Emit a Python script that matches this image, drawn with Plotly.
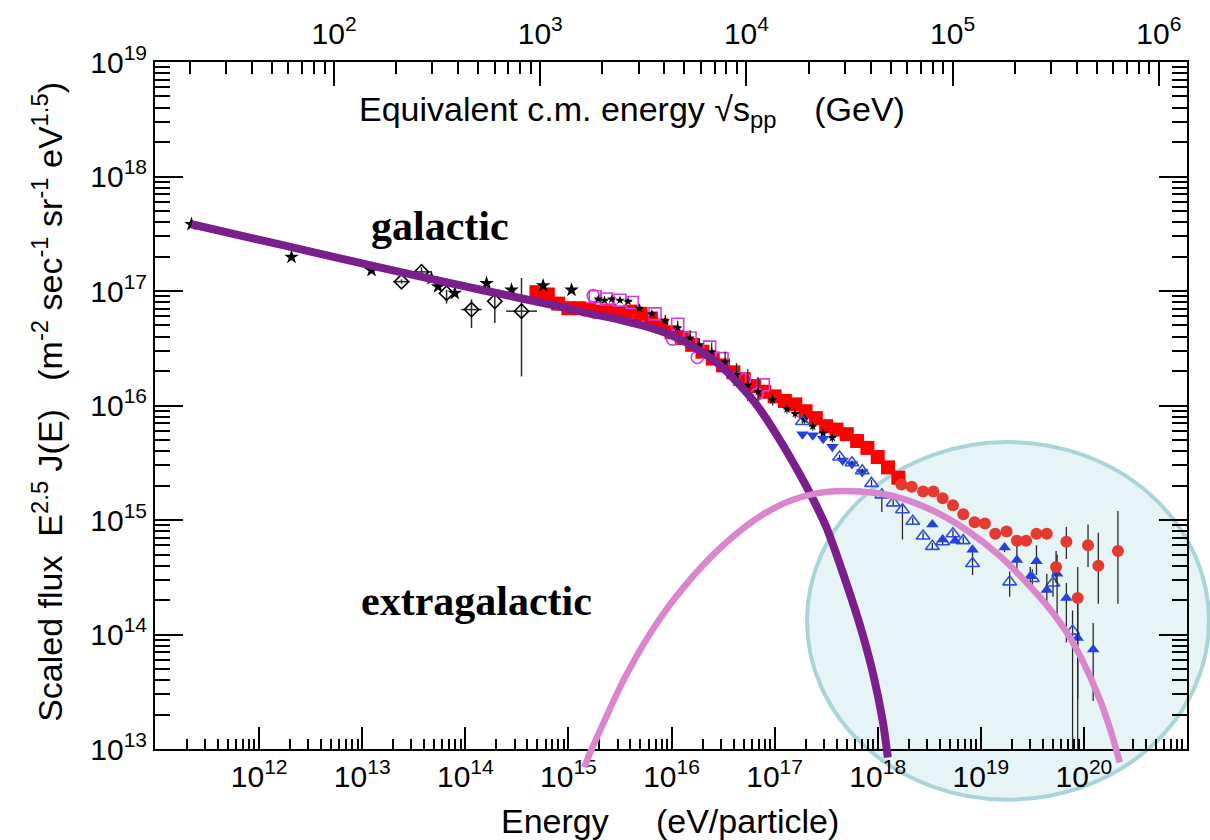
import numpy as np
import plotly.graph_objects as go

# ---------------- data (log10 energy [eV], log10 scaled flux) ----------------
star_logE = [11.344, 12.314, 13.090, 13.672, 13.736, 13.898, 14.206, 14.448, 14.755, 15.030]
star_logF = [17.583, 17.296, 17.181, 17.110, 17.039, 16.981, 17.067, 17.009, 17.047, 17.009]

dia_logE = [13.381, 13.575, 13.818, 14.060, 14.286, 14.545]
dia_logF = [17.082, 17.167, 16.981, 16.838, 16.910, 16.824]
dia_up = [0.02, 0.04, 0.03, 0.09, 0.09, 0.29]
dia_dn = [0.02, 0.04, 0.09, 0.16, 0.19, 0.57]
dia_xerr = [0.08, 0.10, 0.0, 0.10, 0.0, 0.15]

sq_logE = [14.69, 14.80, 14.90, 15.00, 15.10, 15.20, 15.30, 15.40, 15.50, 15.60, 15.70, 15.80,
           15.90, 16.00, 16.10, 16.20, 16.30, 16.40, 16.50, 16.60, 16.70, 16.80, 16.90, 17.00,
           17.10, 17.20, 17.30, 17.40, 17.50, 17.60, 17.70, 17.80, 17.90, 18.00, 18.10, 18.20]
sq_logF = [16.99, 16.97, 16.89, 16.85, 16.85, 16.84, 16.82, 16.83, 16.81, 16.82, 16.80, 16.76,
           16.70, 16.64, 16.59, 16.53, 16.47, 16.41, 16.35, 16.29, 16.23, 16.17, 16.12, 16.08,
           16.04, 16.01, 15.95, 15.89, 15.82, 15.79, 15.75, 15.69, 15.63, 15.55, 15.46, 15.37]

mg_sq_logE = [15.26, 15.37, 15.50, 15.62, 15.84, 16.06, 16.18, 16.37, 16.49, 16.66, 16.89]
mg_sq_logF = [16.95, 16.93, 16.92, 16.90, 16.80, 16.71, 16.59, 16.51, 16.41, 16.23, 16.18]
mg_ci_logE = [15.24, 16.01, 16.25, 16.71, 16.83]
mg_ci_logF = [16.96, 16.58, 16.42, 16.23, 16.10]

bk_logE = [15.29, 15.35, 15.42, 15.50, 15.58, 15.69, 15.81, 15.94, 16.06, 16.18, 16.27, 16.39,
           16.52, 16.63, 16.74, 16.84, 16.98, 17.12, 17.20, 17.29, 17.37, 17.47, 17.56]
bk_logF = [16.93, 16.92, 16.93, 16.92, 16.91, 16.85, 16.80, 16.74, 16.68, 16.59, 16.53, 16.47,
           16.38, 16.27, 16.18, 16.12, 16.05, 15.97, 15.93, 15.88, 15.82, 15.76, 15.72]
bk_err = [0.02, 0.02, 0.02, 0.02, 0.02, 0.03, 0.03, 0.05, 0.06, 0.07, 0.06, 0.08,
          0.09, 0.10, 0.14, 0.13, 0.05, 0.04, 0.04, 0.04, 0.04, 0.04, 0.04]

bd_logE = [17.27, 17.37, 17.47, 17.56, 17.66, 17.75, 17.85]
bd_logF = [15.75, 15.74, 15.71, 15.64, 15.52, 15.49, 15.42]

bo_logE = [17.27, 17.63, 17.75, 17.85, 17.94, 18.04, 18.15, 18.24, 18.34, 18.44, 18.53, 18.63,
           18.73, 18.83, 18.92, 19.28, 19.50, 19.70, 19.89]
bo_logF = [15.86, 15.55, 15.50, 15.43, 15.32, 15.22, 15.15, 15.09, 14.99, 14.86, 14.77, 14.81,
           14.88, 14.82, 14.62, 14.46, 14.49, 14.45, 14.03]
bo_up = [0.02, 0.02, 0.02, 0.02, 0.03, 0.03, 0.03, 0.04, 0.03, 0.03, 0.03, 0.03,
         0.03, 0.03, 0.09, 0.09, 0.08, 0.10, 0.18]
bo_dn = [0.02, 0.02, 0.02, 0.02, 0.03, 0.15, 0.03, 0.26, 0.03, 0.03, 0.03, 0.03,
         0.03, 0.03, 0.10, 0.13, 0.10, 0.12, 1.05]

bf_logE = [18.53, 18.63, 18.75, 18.92, 19.23, 19.35, 19.48, 19.54, 19.64, 19.74, 19.83, 19.94, 20.09]
bf_logF = [14.96, 14.83, 14.82, 14.74, 14.76, 14.65, 14.51, 14.64, 14.39, 14.53, 14.32, 13.97, 13.87]
bf_up = [0.02, 0.02, 0.02, 0.03, 0.04, 0.14, 0.08, 0.14, 0.14, 0.17, 0.13, 0.30, 0.23]
bf_dn = [0.02, 0.02, 0.02, 0.03, 0.04, 0.12, 0.10, 0.12, 0.16, 0.35, 0.39, 0.98, 0.45]

rc_logE = [18.23, 18.33, 18.44, 18.54, 18.63, 18.73, 18.83, 18.94, 19.04, 19.14, 19.25,
           19.35, 19.44, 19.54, 19.64, 19.73, 19.83, 19.94, 20.04, 20.14, 20.33]
rc_logF = [15.31, 15.29, 15.25, 15.25, 15.19, 15.13, 15.05, 14.98, 14.97, 14.88, 14.90,
           14.82, 14.82, 14.88, 14.88, 14.59, 14.81, 14.32, 14.78, 14.60, 14.73]
rc_up = [0.02, 0.02, 0.02, 0.02, 0.02, 0.02, 0.02, 0.02, 0.02, 0.02, 0.02,
         0.03, 0.03, 0.04, 0.04, 0.14, 0.13, 0.27, 0.18, 0.29, 0.35]
rc_dn = [0.02, 0.02, 0.02, 0.02, 0.02, 0.02, 0.02, 0.02, 0.02, 0.02, 0.02,
         0.03, 0.03, 0.04, 0.04, 0.14, 0.15, 0.88, 0.19, 0.33, 0.46]

# model components
gal_logE = [11.344, 12.230, 13.200, 14.170, 14.849, 15.178, 15.499, 15.760, 15.983, 16.207,
            16.468, 16.808, 17.050, 17.244, 17.409, 17.506, 17.661, 17.826, 17.953, 18.049, 18.098]
gal_logF = [17.583, 17.400, 17.200, 17.007, 16.878, 16.809, 16.749, 16.689, 16.620, 16.517,
            16.354, 16.027, 15.701, 15.400, 15.117, 14.928, 14.541, 14.086, 13.665, 13.244, 12.926]

eg_logE = [15.154, 15.188, 15.305, 15.566, 15.886, 16.207, 16.536, 16.856, 17.176, 17.506, 17.826,
           18.146, 18.534, 18.864, 19.184, 19.504, 19.669, 19.834, 19.989, 20.154, 20.251, 20.348]
eg_logF = [12.840, 12.918, 13.158, 13.656, 14.137, 14.507, 14.808, 15.031, 15.177, 15.246, 15.250,
           15.211, 15.083, 14.911, 14.687, 14.395, 14.223, 14.017, 13.768, 13.433, 13.184, 12.883]

# axis tick labels
x_major = list(range(12, 22))
y_major = list(range(13, 20))
top_major = list(range(2, 7))


def p10(a):
    return 10 ** np.asarray(a, dtype=float)


def yerr(logF, up, dn):
    f = p10(logF)
    return p10(np.asarray(logF) + np.asarray(up)) - f, f - p10(np.asarray(logF) - np.asarray(dn))


def xerr(logE, d):
    e = p10(logE)
    return p10(np.asarray(logE) + np.asarray(d)) - e, e - p10(np.asarray(logE) - np.asarray(d))


# ---------------- geometry ----------------
W, H = 1210, 840
ML, MR, MT, MB = 155, 23, 49, 60
plot_w = W - ML - MR
plot_h = H - MT - MB
frame_bottom_px = 748.5
y_dom0 = (H - MB - frame_bottom_px) / plot_h
XR = [10.99, 21.0]
YR = [13.0, 19.0]
dec_px = plot_h * (1 - y_dom0) / (YR[1] - YR[0])
YR3 = [YR[1] - plot_h / dec_px, YR[1]]
# sqrt(s_pp) = sqrt(2 m_p E), m_p = 0.938 GeV, E in eV
TOPR = [0.5 * (XR[0] + np.log10(1.876) - 9), 0.5 * (XR[1] + np.log10(1.876) - 9)]


def px(x):
    return (x - ML) / plot_w


def py(y):
    return (H - MB - y) / plot_h


SANS = "Liberation Sans, Arial, Helvetica, sans-serif"
SERIF = "Liberation Serif, Times New Roman, serif"
ERRC = "#2a2a2a"

fig = go.Figure()

# red squares
fig.add_trace(go.Scatter(x=p10(sq_logE), y=p10(sq_logF), mode="markers",
                         marker=dict(symbol="square", size=14, color="#ff0000", line=dict(width=0))))
# magenta open squares / circles
fig.add_trace(go.Scatter(x=p10(mg_sq_logE), y=p10(mg_sq_logF), mode="markers",
                         marker=dict(symbol="square-open", size=12, color="#d23be0", line=dict(width=1.6))))
fig.add_trace(go.Scatter(x=p10(mg_ci_logE), y=p10(mg_ci_logF), mode="markers",
                         marker=dict(symbol="circle-open", size=12, color="#d23be0", line=dict(width=1.6))))
# small black points with error bars
bk_p, bk_m = yerr(bk_logF, bk_err, bk_err)
bkx_p, bkx_m = xerr(bk_logE, [0.035] * len(bk_logE))
fig.add_trace(go.Scatter(x=p10(bk_logE), y=p10(bk_logF), mode="markers",
                         marker=dict(symbol="star", size=7, color="black"),
                         error_y=dict(type="data", array=bk_p, arrayminus=bk_m, color=ERRC, thickness=1.3, width=0),
                         error_x=dict(type="data", array=bkx_p, arrayminus=bkx_m, color=ERRC, thickness=1.3, width=0)))
# open diamonds
d_p, d_m = yerr(dia_logF, dia_up, dia_dn)
dx_p, dx_m = xerr(dia_logE, dia_xerr)
fig.add_trace(go.Scatter(x=p10(dia_logE), y=p10(dia_logF), mode="markers",
                         marker=dict(symbol="diamond-open", size=11, color="black", line=dict(width=1.6)),
                         error_y=dict(type="data", array=d_p, arrayminus=d_m, color=ERRC, thickness=1.5, width=0),
                         error_x=dict(type="data", array=dx_p, arrayminus=dx_m, color=ERRC, thickness=1.5, width=0)))
# black stars
fig.add_trace(go.Scatter(x=p10(star_logE), y=p10(star_logF), mode="markers",
                         marker=dict(symbol="star", size=11, color="black", line=dict(width=0))))
# blue filled down-triangles
fig.add_trace(go.Scatter(x=p10(bd_logE), y=p10(bd_logF), mode="markers",
                         marker=dict(symbol="triangle-down", size=11, color="#2342e0", line=dict(width=0))))
# blue open triangles
bo_p, bo_m = yerr(bo_logF, bo_up, bo_dn)
fig.add_trace(go.Scatter(x=p10(bo_logE), y=p10(bo_logF), mode="markers",
                         marker=dict(symbol="triangle-up-open", size=12, color="#2f4fe0", line=dict(width=1.6)),
                         error_y=dict(type="data", array=bo_p, arrayminus=bo_m, color=ERRC, thickness=1.3, width=0)))
# blue filled triangles
bf_p, bf_m = yerr(bf_logF, bf_up, bf_dn)
fig.add_trace(go.Scatter(x=p10(bf_logE), y=p10(bf_logF), mode="markers",
                         marker=dict(symbol="triangle-up", size=11, color="#2342e0", line=dict(width=0)),
                         error_y=dict(type="data", array=bf_p, arrayminus=bf_m, color=ERRC, thickness=1.3, width=0)))
# red circles
rc_p, rc_m = yerr(rc_logF, rc_up, rc_dn)
fig.add_trace(go.Scatter(x=p10(rc_logE), y=p10(rc_logF), mode="markers",
                         marker=dict(symbol="circle", size=12, color="#e6392f", line=dict(width=0)),
                         error_y=dict(type="data", array=rc_p, arrayminus=rc_m, color=ERRC, thickness=1.3, width=0)))

# anchor trace for the top (c.m. energy) axis
fig.add_trace(go.Scatter(x=[10 ** (TOPR[0] + 0.1), 10 ** (TOPR[1] - 0.1)], y=[1e15, 1e15],
                         xaxis="x2", yaxis="y", mode="markers", marker=dict(opacity=0),
                         hoverinfo="skip"))

# galactic / extragalactic components (may run slightly past the frame)
fig.add_trace(go.Scatter(x=p10(gal_logE), y=p10(gal_logF), xaxis="x3", yaxis="y3", mode="lines",
                         line=dict(color="#7b1f8c", width=8, shape="spline", smoothing=0.8)))
fig.add_trace(go.Scatter(x=p10(eg_logE), y=p10(eg_logF), xaxis="x3", yaxis="y3", mode="lines",
                         line=dict(color="#d986cd", width=6.5, shape="spline", smoothing=1.0)))


def minor_vals(lo, hi):
    vals = []
    for n in range(int(np.floor(lo)), int(np.ceil(hi)) + 1):
        for k in range(2, 10):
            v = np.log10(k) + n
            if lo < v < hi:
                vals.append(k * 10.0 ** n)
    return vals


tick_common = dict(type="log", showgrid=False, zeroline=False, showline=True, linecolor="black",
                   linewidth=2, ticks="inside", tickcolor="black", tickwidth=2,
                   tickfont=dict(family=SANS, size=30, color="black"))

fig.update_layout(
    width=W, height=H, autosize=False,
    margin=dict(l=ML, r=MR, t=MT, b=MB),
    paper_bgcolor="white", plot_bgcolor="rgba(0,0,0,0)",
    showlegend=False,
    font=dict(family=SANS, color="black"),
    xaxis=dict(**tick_common, range=XR, domain=[0, 1], anchor="y", mirror=False, ticklen=22,
               tickmode="array", tickvals=[10.0 ** k for k in x_major],
               ticktext=[f"10<sup>{k}</sup>" for k in x_major],
               minor=dict(ticks="inside", ticklen=10, tickwidth=1.5, tickcolor="black",
                          tickvals=minor_vals(*XR), showgrid=False)),
    xaxis2=dict(**tick_common, range=TOPR, overlaying="x", side="top", anchor="y", ticklen=24,
                tickmode="array", tickvals=[10.0 ** k for k in top_major],
                ticktext=[f"10<sup>{k}</sup>" for k in top_major],
                ticklabelstandoff=4,
                minor=dict(ticks="inside", ticklen=12, tickwidth=1.5, tickcolor="black",
                           tickvals=minor_vals(*TOPR), showgrid=False)),
    yaxis=dict(**tick_common, range=YR, domain=[y_dom0, 1], anchor="x", mirror="ticks", ticklen=28,
               tickmode="array", tickvals=[10.0 ** k for k in y_major],
               ticktext=[f"10<sup>{k}</sup>" for k in y_major],
               minor=dict(ticks="inside", ticklen=15, tickwidth=1.5, tickcolor="black",
                          tickvals=minor_vals(*YR), showgrid=False)),
    xaxis3=dict(type="log", range=XR, domain=[0, 1], anchor="y3", visible=False),
    yaxis3=dict(type="log", range=YR3, domain=[0, 1], anchor="x3", visible=False),
)

# highlighted ultra-high-energy region
ell = dict(type="circle", xref="paper", yref="paper",
           x0=px(807), x1=px(1209), y0=py(800), y1=py(436), layer="below")
fig.add_shape(**ell, fillcolor="#e7f4f5", line=dict(width=0))
fig.add_shape(**ell, fillcolor="rgba(0,0,0,0)", line=dict(color="#a9d5da", width=4))

NB = "\u00a0"
annots = [
    dict(text="<b>galactic</b>", x=px(440), y=py(216), font=dict(family=SERIF, size=42)),
    dict(text="<b>extragalactic</b>", x=px(476), y=py(598), font=dict(family=SERIF, size=42)),
    dict(text=f"Equivalent c.m. energy √s<sub>pp</sub>{NB * 4}(GeV)", x=px(357), y=py(99),
         xanchor="left", font=dict(family=SANS, size=34)),
    dict(text=f"Energy{NB * 5}(eV/particle)", x=px(499), y=py(822), xanchor="left",
         font=dict(family=SANS, size=34)),
    dict(text=(f"Scaled flux{NB * 2}E<sup>2.5</sup> J(E){NB * 3}(m<sup>-2</sup> sec<sup>-1</sup> "
               f"sr<sup>-1</sup> eV<sup>1.5</sup>)"),
         x=px(48), y=py(395), textangle=-90, font=dict(family=SANS, size=34)),
]
for a in annots:
    a.setdefault("xanchor", "center")
    fig.add_annotation(xref="paper", yref="paper", showarrow=False, yanchor="middle",
                       font_color="black", **a)

fig.write_html("out.html")
